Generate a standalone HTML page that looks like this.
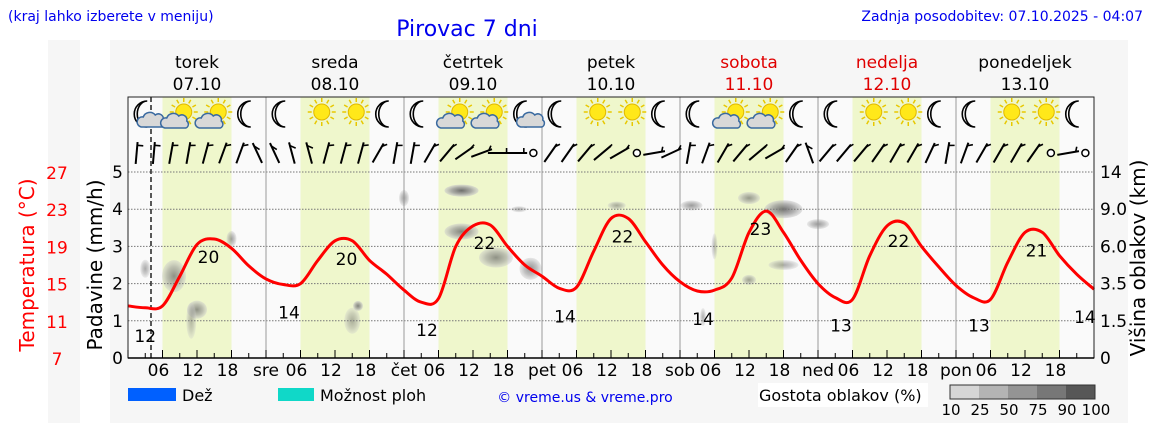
<!DOCTYPE html>
<html><head><meta charset="utf-8"><style>
html,body{margin:0;padding:0;background:#fff;}
svg{display:block;font-family:"DejaVu Sans","Liberation Sans",sans-serif;}
</style></head><body>
<svg id="c" width="1152" height="443" viewBox="0 0 1152 443">
<rect x="48" y="40" width="32" height="383" fill="#f6f6f6"/>
<rect x="110" y="40" width="1018" height="383" fill="#f6f6f6"/>
<rect x="128" y="97" width="966" height="261" fill="#fafafa"/>
<g id="bg"></g><g id="clouds"></g><g id="grid"></g><g id="icons"></g><g id="wind"></g><g id="temp"></g><g id="axes"></g>
<text x="8" y="21" font-size="14" fill="#0000ee">(kraj lahko izberete v meniju)</text>
<text x="467" y="36" font-size="22" fill="#0000ee" text-anchor="middle">Pirovac 7 dni</text>
<text x="1143" y="21" font-size="14" fill="#0000ee" text-anchor="end">Zadnja posodobitev: 07.10.2025 - 04:07</text>
<text transform="translate(34,265) rotate(-90)" font-size="20" fill="#ff0000" text-anchor="middle">Temperatura (°C)</text>
<text transform="translate(102,265) rotate(-90)" font-size="20" fill="#000" text-anchor="middle">Padavine (mm/h)</text>
<text transform="translate(1145,258) rotate(-90)" font-size="20" fill="#000" text-anchor="middle">Višina oblakov (km)</text>
<rect x="128" y="388" width="48" height="13" fill="#0060ff"/>
<text x="182" y="401" font-size="16">Dež</text>
<rect x="278" y="388" width="36" height="13" fill="#10d8c8"/>
<text x="320" y="401" font-size="16">Možnost ploh</text>
<text x="585" y="402" font-size="14" fill="#0000ee" text-anchor="middle">© vreme.us &amp; vreme.pro</text>
<rect x="758" y="383" width="170" height="24" fill="#fff"/>
<text x="759" y="401" font-size="16">Gostota oblakov (%)</text>
<g id="clegend"></g>
</svg>
<script>
const NS="http://www.w3.org/2000/svg";
function mk(p,t,a){const e=document.createElementNS(NS,t);for(const k in a)e.setAttribute(k,a[k]);p.appendChild(e);return e;}
const X0=128,X1=1094,YB=358,DAYW=138;
const days=["torek","sreda","četrtek","petek","sobota","nedelja","ponedeljek"];
const dates=["07.10","08.10","09.10","10.10","11.10","12.10","13.10"];
const dayAbbr=["sre","čet","pet","sob","ned","pon"];
const precipTicks=[0,1,2,3,4,5];
const tempTicks=[7,11,15,19,23,27];
const kmTicks=["0","1.5","3.5","6.0","9.0","14"];
// temperature every 3 hours from 07.10 00:00
const temps=[12.6,12.4,12.6,15.8,19.2,19.8,18.8,16.9,
15.5,14.9,15.0,17.5,19.6,19.6,17.5,16.0,
14.3,13.0,13.4,19.0,21.2,21.3,19.0,17.0,
15.8,14.5,14.6,18.5,22.0,22.0,19.5,17.0,
15.2,14.2,14.3,15.6,20.5,22.8,20.5,17.5,
15.0,13.5,13.3,18.0,21.2,21.5,19.0,16.8,
14.8,13.5,13.3,17.3,20.5,20.5,18.0,16.0,14.4];
const tempLabels=[[0,3,12],[0,14,20],[1,4,14],[1,14,20],[2,4,12],[2,14,22],[3,4,14],[3,14,22],[4,4,14],[4,14,23],[5,4,13],[5,14,22],[6,4,13],[6,14,21],[6,23.5,14]];
const icons=["mc","sc","sc","m","m","s","s","m","m","sc","sc","mc","m","s","s","m","m","sc","sc","m","m","s","s","m","m","s","s","m"];
// wind direction angle (deg, from vertical) every 3h, "o"=calm
const windAng=[5,5,10,10,15,20,20,-25,-25,-15,-15,15,15,15,30,10,10,30,40,55,70,90,90,"o",35,35,40,50,60,"o",80,65,10,20,30,40,50,60,35,-20,40,40,40,35,30,30,25,10,20,30,30,30,35,"o",80,"o"];
// clouds [dayHour, km-unit(0-5 scale), rx, ry, density]
const clouds=[[3,2.4,5,9,0.35],[8,2.2,12,16,0.5],[12,1.3,10,9,0.5],[11,1.0,5,18,0.25],[18,3.2,5,8,0.4],[48,4.3,5,8,0.4],[39,1.0,8,13,0.3],[40,1.4,5,5,0.6],
[58,4.5,17,6,0.75],[58,3.4,17,8,0.6],[64,2.7,17,10,0.5],[70,2.4,11,11,0.5],[68,4.0,8,3,0.3],[85,4.1,9,4,0.35],[98,4.1,11,5,0.45],[108,4.3,11,6,0.45],[114,4.0,19,9,0.7],[120,3.6,11,5,0.45],[114,2.5,15,5,0.35],[108,2.1,7,5,0.4],[102,3.0,3,13,0.25],[100,1.1,3,9,0.3]];
const xH=h=>X0+h/24*DAYW;
const yP=v=>YB-v*37.2;
const yT=t=>YB-(t-7)/4*37.2;
const bg=document.getElementById('bg');
for(let d=0;d<7;d++){const r=mk(bg,'rect',{x:xH(d*24+6),y:97,width:DAYW/2,height:261,fill:'#eff7cc'});

}
const cg=document.getElementById('clouds');
const defs=mk(cg,'defs',{});
const rg=mk(defs,'radialGradient',{id:'cgr'});
mk(rg,'stop',{offset:'0','stop-color':'#666','stop-opacity':'1'});
mk(rg,'stop',{offset:'0.6','stop-color':'#a0a0a0','stop-opacity':'0.9'});
mk(rg,'stop',{offset:'1','stop-color':'#ccc','stop-opacity':'0.6'});
clouds.forEach(c=>{const e=mk(cg,'ellipse',{cx:xH(c[0]),cy:yP(c[1]),rx:c[2],ry:c[3],fill:'url(#cgr)','fill-opacity':Math.min(1,c[4]+0.2)});

});
const gr=document.getElementById('grid');
precipTicks.slice(1).forEach(v=>{const l=mk(gr,'line',{x1:X0,x2:X1,y1:yP(v),y2:yP(v),stroke:'#777','stroke-dasharray':'1.5,1.5','stroke-width':1});

});
for(let d=1;d<7;d++){mk(gr,'line',{x1:xH(d*24),x2:xH(d*24),y1:97,y2:YB,stroke:'#999'});}
mk(gr,'line',{x1:xH(4),x2:xH(4),y1:97,y2:YB,stroke:'#222','stroke-dasharray':'5,3','stroke-width':1.5});
const ax=document.getElementById('axes');
mk(ax,'rect',{x:X0,y:97,width:X1-X0,height:YB-97,fill:'none',stroke:'#222','stroke-width':1});
mk(ax,'line',{x1:X0,x2:X1,y1:YB,y2:YB,stroke:'#000','stroke-width':1.5});
for(let h=0;h<=168;h+=3){mk(ax,'line',{x1:xH(h),x2:xH(h),y1:YB,y2:YB-(h%6?5:8),stroke:'#000'});}
for(let d=0;d<7;d++){
 const c=xH(d*24+12),red=d>=4&&d<=5;
 let t=mk(ax,'text',{x:c,y:68,'font-size':17,'text-anchor':'middle',fill:red?'#e00000':'#000'});t.textContent=days[d];
 
 
 t=mk(ax,'text',{x:c,y:90,'font-size':17,'text-anchor':'middle',fill:red?'#e00000':'#000'});t.textContent=dates[d];
 
 
 ["06","12","18"].forEach((s,i)=>{const tt=mk(ax,'text',{x:xH(d*24+6*(i+1))-4,y:376,'font-size':17,'text-anchor':'middle'});tt.textContent=s;
 
 });
 if(d<6){const tt=mk(ax,'text',{x:xH((d+1)*24),y:376,'font-size':17,'text-anchor':'middle'});tt.textContent=dayAbbr[d];
 
 }
}
precipTicks.forEach(v=>{const t=mk(ax,'text',{x:123,y:yP(v)+6,'font-size':17,'text-anchor':'end'});t.textContent=v;

});
tempTicks.forEach(v=>{const t=mk(ax,'text',{x:57,y:yT(v)+7,'font-size':17,'text-anchor':'middle',fill:'#ff0000'});t.textContent=v;

});
kmTicks.forEach((v,i)=>{const t=mk(ax,'text',{x:1100,y:yP(i)+6,'font-size':17});t.textContent=v;

});
// temperature line (smooth)
const tg=document.getElementById('temp');
const P=temps.map((t,i)=>[xH(i*3),yT(t)]);
let d="M"+P[0][0]+","+P[0][1];
for(let i=0;i<P.length-1;i++){const p0=P[Math.max(0,i-1)],p1=P[i],p2=P[i+1],p3=P[Math.min(P.length-1,i+2)];
 d+=` C${(p1[0]+(p2[0]-p0[0])/6).toFixed(1)},${(p1[1]+(p2[1]-p0[1])/6).toFixed(1)} ${(p2[0]-(p3[0]-p1[0])/6).toFixed(1)},${(p2[1]-(p3[1]-p1[1])/6).toFixed(1)} ${p2[0].toFixed(1)},${p2[1].toFixed(1)}`;}
const pl=mk(tg,'path',{d:d,fill:'none',stroke:'#ff0000','stroke-width':3,'stroke-linejoin':'round'});


tempLabels.forEach(l=>{const h=l[0]*24+l[1];const idx=Math.min(temps.length-1,Math.round(h/3));const isMax=l[1]>10&&l[1]<20;
 const y=isMax?yT(temps[idx])+24:yT(temps[idx])+34;
 const t=mk(tg,'text',{x:Math.min(xH(h),1085),y:y,'font-size':17,'text-anchor':'middle'});t.textContent=l[2];
 
 });
// icons
const ig=document.getElementById('icons');
function sun(g,x,y,r){for(let a=0;a<360;a+=30){const rad=a*Math.PI/180;mk(g,'line',{x1:x+Math.cos(rad)*(r+2),y1:y+Math.sin(rad)*(r+2),x2:x+Math.cos(rad)*(r+6),y2:y+Math.sin(rad)*(r+6),stroke:'#e8c800','stroke-width':1.5});}
 mk(g,'circle',{cx:x,cy:y,r:r,fill:'#ffe81a',stroke:'#e0b800'});}
function moon(g,x,y){mk(g,'path',{d:`M${x+4},${y-13} A13,13 0 1,0 ${x+4},${y+13} A10,13 0 1,1 ${x+4},${y-13}Z`,fill:'#fff',stroke:'#000','stroke-width':1.6});}
function cloud(g,x,y){mk(g,'path',{d:`M${x-11},${y+7} a5,5 0 0,1 2,-10 a7,7 0 0,1 12,-2 a5,5 0 0,1 8,5 a4,4 0 0,1 -1,7 Z`,fill:'#d8d8d8',stroke:'#3a6aa0','stroke-width':1.5});}
icons.forEach((k,i)=>{const x=xH(i*6+3),y=114;const g=mk(ig,'g',{});
 
 
 if(k[0]==='m'){moon(g,x-2,y);if(k==='mc')cloud(g,x+7,y+6);}
 else{sun(g,x+4,y-2,8);if(k==='sc')cloud(g,x-4,y+7);}});
// wind
const wg=document.getElementById('wind');
windAng.forEach((a,i)=>{const x=xH(i*3+1.5),y=153;const g=mk(wg,'g',{});
 
 
 if(a==='o'){mk(g,'circle',{cx:x,cy:y,r:3.5,fill:'#fff',stroke:'#000','stroke-width':1.5});return;}
 const r=a*Math.PI/180,L=22,dx=Math.sin(r)*L,dy=Math.cos(r)*L;
 mk(g,'line',{x1:x-dx/2,y1:y+dy/2,x2:x+dx/2,y2:y-dy/2,stroke:'#000','stroke-width':2});
 mk(g,'line',{x1:x+dx/2*0.7,y1:y-dy/2*0.7,x2:x+dx/2*0.7+Math.cos(r)*6,y2:y-dy/2*0.7-Math.sin(r)*6+1,stroke:'#000','stroke-width':1.6});});
// cloud density legend
const cl=document.getElementById('clegend');
const cLab=["10","25","50","75","90","100"];const cCol=["#d6d6d6","#b4b4b4","#949494","#777","#575757"];
cCol.forEach((c,i)=>{const r=mk(cl,'rect',{x:950+i*29,y:385,width:29,height:14,fill:c});

});
mk(cl,'rect',{x:950,y:385,width:145,height:14,fill:'none',stroke:'#333'});
cLab.forEach((s,i)=>{const t=mk(cl,'text',{x:951+i*29,y:415,'font-size':15,'text-anchor':'middle'});t.textContent=s;

});
</script>
</body></html>
